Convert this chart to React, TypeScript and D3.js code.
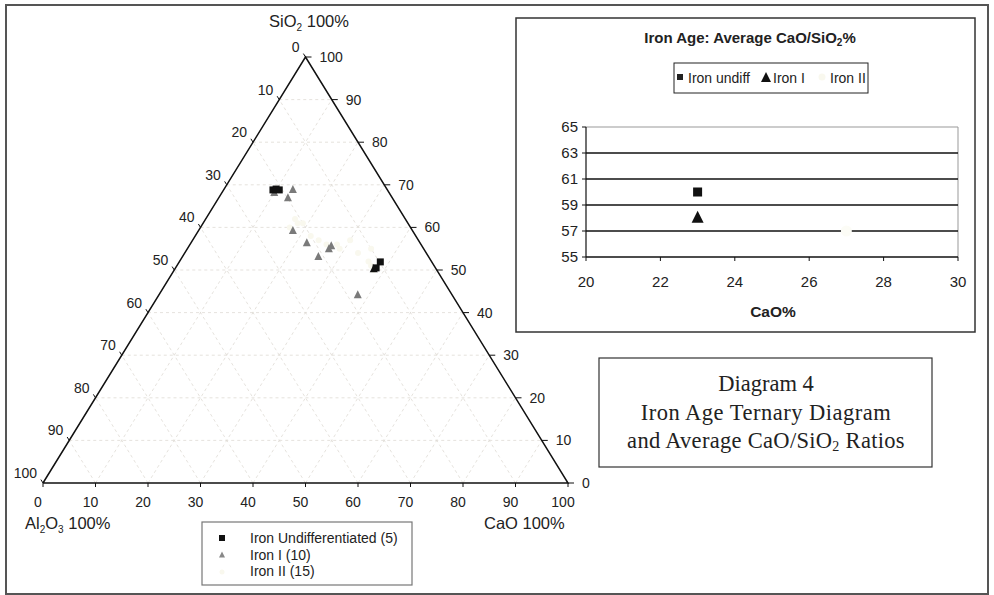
import React from "react";
import * as d3 from "d3";

// ---------- data ----------
const ternaryTicks = d3.range(0, 101, 10);
// ternary points: [CaO %, SiO2 %]  (Al2O3 % = remainder)
const ironUndiff: [number, number][] = [
  [9.4, 68.8], [10.6, 68.8], [9.9, 69.0], [38.3, 51.9], [38.2, 50.5],
];
const ironI: [number, number][] = [
  [13.2, 68.8], [13.2, 66.9], [10.0, 68.1], [18.0, 59.2], [22.1, 56.3],
  [27.1, 55.6], [27.0, 54.9], [25.9, 53.1], [37.9, 44.1],
];
const ironIDark: [number, number][] = [[37.9, 50.2]];
const ironII: [number, number][] = [
  [17, 62], [18, 61], [17, 60], [19, 61], [22, 58], [24, 57], [26, 56], [28, 56],
  [29, 55], [30, 57], [33, 54], [35, 55], [36, 52], [37, 51], [38, 50],
];
const legendLabels = ["Iron Undifferentiated (5)", "Iron I (10)", "Iron II (15)"];

// inset chart
const insetSeries = ["Iron undiff", "Iron I", "Iron II"];
const avgCaO = [23, 23, 27];
const avgSiO2 = [60, 58, 57];
const insetXTicks = [20, 22, 24, 26, 28, 30];
const insetYTicks = [55, 57, 59, 61, 63, 65];

const SANS = "'Liberation Sans', Arial, sans-serif";
const SERIF = "'Liberation Serif', 'Times New Roman', serif";
const PALE = "#f9f8ee";

export default function App() {
  // ternary scales
  const tx = d3.scaleLinear().domain([0, 100]).range([43, 568]);
  const ty = d3.scaleLinear().domain([0, 100]).range([483, 57]);
  const P = (c: number, s: number): [number, number] => [tx(c + s / 2), ty(s)];

  const A = P(0, 0), B = P(100, 0), C = P(0, 100);
  const line = d3.line();

  const grid: [[number, number], [number, number]][] = [];
  ternaryTicks.slice(1, -1).forEach((v) => {
    grid.push([P(0, v), P(100 - v, v)]);
    grid.push([P(v, 0), P(v, 100 - v)]);
    grid.push([P(100 - v, 0), P(0, 100 - v)]);
  });

  const dr = [B[0] - C[0], B[1] - C[1]];
  const lr = Math.hypot(dr[0], dr[1]);

  const tri = (x: number, y: number, s: number) =>
    `M${x},${y - s * 0.6}L${x + s / 2},${y + s * 0.4}L${x - s / 2},${y + s * 0.4}Z`;

  // inset scales
  const ix = d3.scaleLinear().domain([20, 30]).range([586, 958]);
  const iy = d3.scaleLinear().domain([55, 65]).range([257, 127]);

  return (
    <svg width={994} height={595} style={{ position: "absolute", left: 0, top: 0, background: "#fff" }}>
      <rect x={6} y={5} width={982} height={589} fill="none" stroke="#555" strokeWidth={2} />

      {/* ternary grid */}
      {grid.map((g, i) => (
        <path key={i} d={line(g)!} stroke="#dedbd4" strokeWidth={0.8} strokeDasharray="3,3" fill="none" />
      ))}
      {/* triangle */}
      <path d={line([A, B, C, A])!} fill="none" stroke="#111" strokeWidth={1.5} />

      {/* bottom ticks (CaO) */}
      {ternaryTicks.map((v) => {
        const [x, y] = P(v, 0);
        return (
          <g key={"b" + v}>
            <line x1={x} y1={y} x2={x} y2={y + 4} stroke="#111" />
            <text x={x - 5} y={507} fontFamily={SANS} fontSize={14} textAnchor="middle" fill="#222">{v}</text>
          </g>
        );
      })}
      {/* left ticks (Al2O3) */}
      {ternaryTicks.map((v) => {
        const [x, y] = P(0, 100 - v);
        return (
          <g key={"l" + v}>
            <line x1={x} y1={y} x2={x - (dr[0] / lr) * 4} y2={y - (dr[1] / lr) * 4} stroke="#111" />
            <text x={x - 6} y={y - 5} fontFamily={SANS} fontSize={14} textAnchor="end" fill="#222">{v}</text>
          </g>
        );
      })}
      {/* right ticks (SiO2) */}
      {ternaryTicks.map((v) => {
        const [x, y] = P(100 - v, v);
        return (
          <g key={"r" + v}>
            <line x1={x} y1={y} x2={x + 6} y2={y} stroke="#111" />
            <text x={x + 14} y={y + 5} fontFamily={SANS} fontSize={14} textAnchor="start" fill="#222">{v}</text>
          </g>
        );
      })}

      {/* axis titles */}
      <text x={309} y={27} fontFamily={SANS} fontSize={16.5} textAnchor="middle" fill="#222">
        SiO<tspan fontSize={10} dy={4}>2</tspan><tspan dy={-4}> 100%</tspan>
      </text>
      <text x={25} y={529} fontFamily={SANS} fontSize={16.5} fill="#222">
        Al<tspan fontSize={10} dy={4}>2</tspan><tspan dy={-4}>O</tspan><tspan fontSize={10} dy={4}>3</tspan><tspan dy={-4}> 100%</tspan>
      </text>
      <text x={484} y={529} fontFamily={SANS} fontSize={16.5} fill="#222">CaO 100%</text>

      {/* ternary points */}
      {ironII.map(([c, s], i) => {
        const [x, y] = P(c, s);
        return <circle key={"ii" + i} cx={x} cy={y} r={3} fill={PALE} />;
      })}
      {ironI.map(([c, s], i) => {
        const [x, y] = P(c, s);
        return <path key={"i" + i} d={tri(x, y, 8)} fill="#7a7a7a" />;
      })}
      {ironIDark.map(([c, s], i) => {
        const [x, y] = P(c, s);
        return <path key={"id" + i} d={tri(x, y, 8)} fill="#111" />;
      })}
      {ironUndiff.map(([c, s], i) => {
        const [x, y] = P(c, s);
        return <rect key={"u" + i} x={x - 3.5} y={y - 3.5} width={7} height={7} fill="#111" />;
      })}

      {/* bottom legend */}
      <rect x={202} y={522} width={210} height={63} fill="#fff" stroke="#777" strokeWidth={1.2} />
      <rect x={219} y={535} width={6} height={6} fill="#111" />
      <path d={tri(222, 555, 6)} fill="#888" />
      <circle cx={222} cy={572} r={2.5} fill={PALE} />
      {legendLabels.map((l, i) => (
        <text key={l} x={250} y={543 + i * 16.5} fontFamily={SANS} fontSize={14} fill="#222">{l}</text>
      ))}

      {/* inset chart */}
      <rect x={516} y={18} width={459} height={314} fill="#fff" stroke="#333" strokeWidth={1.5} />
      <text x={750} y={43} fontFamily={SANS} fontSize={15} fontWeight="bold" textAnchor="middle" fill="#222">
        Iron Age: Average CaO/SiO<tspan fontSize={10} dy={3}>2</tspan><tspan dy={-3}>%</tspan>
      </text>
      <rect x={674} y={63} width={194} height={30} fill="#fff" stroke="#222" strokeWidth={1} />
      <rect x={677} y={74} width={6} height={6} fill="#222" />
      <text x={688} y={83} fontFamily={SANS} fontSize={14} fill="#222">{insetSeries[0]}</text>
      <path d={tri(766, 78, 10)} fill="#111" />
      <text x={773} y={83} fontFamily={SANS} fontSize={14} fill="#222">{insetSeries[1]}</text>
      <circle cx={822} cy={77} r={3.5} fill={PALE} />
      <text x={830} y={83} fontFamily={SANS} fontSize={14} fill="#222">{insetSeries[2]}</text>

      {/* plot area */}
      <line x1={ix(20)} y1={iy(65)} x2={ix(30)} y2={iy(65)} stroke="#999" strokeWidth={1} />
      <line x1={ix(30)} y1={iy(65)} x2={ix(30)} y2={iy(55)} stroke="#999" strokeWidth={1} />
      {insetYTicks.slice(1, -1).map((v) => (
        <line key={"g" + v} x1={ix(20)} y1={iy(v)} x2={ix(30)} y2={iy(v)} stroke="#111" strokeWidth={1.4} />
      ))}
      <line x1={ix(20)} y1={iy(55)} x2={ix(30)} y2={iy(55)} stroke="#111" strokeWidth={1.4} />
      <line x1={ix(20)} y1={iy(55)} x2={ix(20)} y2={iy(65)} stroke="#111" strokeWidth={1.2} />
      {insetYTicks.map((v) => (
        <g key={"yt" + v}>
          <line x1={ix(20) - 4} y1={iy(v)} x2={ix(20)} y2={iy(v)} stroke="#111" />
          <text x={578} y={iy(v) + 5} fontFamily={SANS} fontSize={15} textAnchor="end" fill="#222">{v}</text>
        </g>
      ))}
      {insetXTicks.map((v) => (
        <g key={"xt" + v}>
          <line x1={ix(v)} y1={iy(55)} x2={ix(v)} y2={iy(55) + 4} stroke="#111" />
          <text x={ix(v)} y={287} fontFamily={SANS} fontSize={15} textAnchor="middle" fill="#222">{v}</text>
        </g>
      ))}
      <text x={773} y={317} fontFamily={SANS} fontSize={15.5} fontWeight="bold" textAnchor="middle" fill="#222">CaO%</text>

      {/* inset points */}
      <rect x={ix(avgCaO[0]) - 4.5} y={iy(avgSiO2[0]) - 4.5} width={9} height={9} fill="#111" />
      <path d={tri(ix(avgCaO[1]), iy(avgSiO2[1]), 12)} fill="#111" />
      <circle cx={ix(avgCaO[2])} cy={iy(avgSiO2[2])} r={5.5} fill="#fcfcf6" />

      {/* caption box */}
      <rect x={599} y={358} width={333} height={109} fill="#fff" stroke="#333" strokeWidth={1.2} />
      <text x={766} y={391} fontFamily={SERIF} fontSize={22.5} textAnchor="middle" fill="#222">Diagram 4</text>
      <text x={766} y={420} fontFamily={SERIF} fontSize={22.5} textAnchor="middle" fill="#222" letterSpacing={0.5}>Iron Age Ternary Diagram</text>
      <text x={766} y={448} fontFamily={SERIF} fontSize={22.5} textAnchor="middle" fill="#222" letterSpacing={0.3}>
        and Average CaO/SiO<tspan fontSize={14} dy={3}>2</tspan><tspan dy={-3}> Ratios</tspan>
      </text>
    </svg>
  );
}
